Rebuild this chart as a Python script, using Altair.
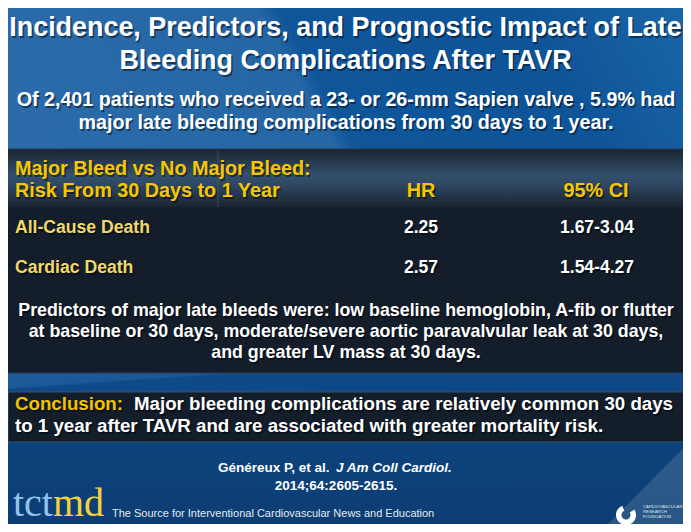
import altair as alt
import pandas as pd

# ---------------- content ----------------
title_lines = ["Incidence, Predictors, and Prognostic Impact of Late",
               "Bleeding Complications After TAVR"]
subtitle_lines = ["Of 2,401 patients who received a 23- or 26-mm Sapien valve , 5.9% had",
                  "major late bleeding complications from 30 days to 1 year."]
table_heading = ["Major Bleed vs No Major Bleed:", "Risk From 30 Days to 1 Year"]
column_heads = ["HR", "95% CI"]
outcomes = ["All-Cause Death", "Cardiac Death"]
hazard_ratios = ["2.25", "2.57"]
conf_intervals = ["1.67-3.04", "1.54-4.27"]
predictor_lines = ["Predictors of major late bleeds were: low baseline hemoglobin, A-fib or flutter",
                   "at baseline or 30 days, moderate/severe aortic paravalvular leak at 30 days,",
                   "and greater LV mass at 30 days."]
conclusion_label = ["Conclusion:"]
conclusion_lines = ["Major bleeding complications are relatively common 30 days",
                    "to 1 year after TAVR and are associated with greater mortality risk."]
citation_authors = ["Généreux P, et al. "]
citation_journal = ["J Am Coll Cardiol."]
citation_volume = ["2014;64:2605-2615."]
tagline = ["The Source for Interventional Cardiovascular News and Education"]
brand = ["tct", "md"]
crf_lines = ["CARDIOVASCULAR", "RESEARCH", "FOUNDATION"]

# ---------------- layout (slide pixel coordinates) ----------------
W, H = 675, 516
XS = alt.Scale(domain=[8, 683], range=[0, W], nice=False, zero=False)
YS = alt.Scale(domain=[8, 524], range=[0, H], nice=False, zero=False)
FONT = "Liberation Sans"


def enc():
    return dict(x=alt.X("x:Q", scale=XS, axis=None),
                y=alt.Y("y:Q", scale=YS, axis=None))


def text_layer(texts, xpos, ypos, size, color, weight="bold", align="left",
               font=FONT, style="normal", shadow=False):
    df = pd.DataFrame({"t": texts, "x": xpos, "y": ypos})
    base = alt.Chart(df)
    out = []
    common = dict(font=font, fontSize=size, fontWeight=weight, fontStyle=style,
                  align=align, baseline="alphabetic")
    if shadow:
        out.append(base.mark_text(color="#000000", opacity=0.45, dx=1.5, dy=1.5, **common)
                   .encode(text="t:N", **enc()))
    out.append(base.mark_text(color=color, **common).encode(text="t:N", **enc()))
    return out


def rect_layer(x0, x1, y0, y1, fill, stroke=None, opacity=1.0):
    df = pd.DataFrame({"x": [x0], "x2": [x1], "y": [y0], "y2": [y1]})
    props = dict(fill=fill, opacity=opacity)
    if stroke:
        props.update(stroke=stroke, strokeWidth=1)
    return alt.Chart(df).mark_rect(**props).encode(
        x2="x2:Q", y2="y2:Q", **enc())


def grad(stops, x1=0.0, y1=0.0, x2=0.0, y2=1.0):
    return alt.LinearGradient(gradient="linear", x1=x1, x2=x2, y1=y1, y2=y2,
                              stops=[alt.GradientStop(offset=o, color=c) for o, c in stops])


layers = []
# background: base vertical shading
layers.append(rect_layer(0, 691, 0, 532, grad([(0, "#0f569c"), (0.3, "#0f5394"), (0.6, "#0e4a88"), (1, "#0c3d73")])))
# top band with the lighter diagonal panel on the left
layers.append(rect_layer(0, 691, 0, 149, grad([(0, "#2b6ba9"), (0.42, "#2566a5"), (0.45, "#0e5599"),
                                                (0.8, "#0d5498"), (1, "#1b63a7")],
                                               x1=0, y1=0.5, x2=1, y2=0.378)))
# strip between the two boxes
layers.append(rect_layer(0, 691, 373, 392, grad([(0, "#1e5c9a"), (0.28, "#1b5897"), (0.31, "#0f4a88"),
                                                  (1, "#0e4785")], x1=0, y1=0, x2=1, y2=0.4)))
# lighter corner bottom-right
layers.append(rect_layer(560, 691, 430, 532, grad([(0, "rgba(255,255,255,0)"), (0.745, "rgba(255,255,255,0)"),
                                                    (0.755, "rgba(255,255,255,0.13)"), (1, "rgba(255,255,255,0.13)")],
                                                   x1=0, y1=0, x2=0.902, y2=0.695)))

# table box
layers.append(rect_layer(7, 684, 149, 373, "#141e2b", stroke="#2c3d52"))
layers.append(rect_layer(8, 685, 150, 207, grad([(0, "#1c2633"), (0.45, "#33506d"), (0.6, "#2f4864"), (1, "#1a2431")])))
layers.append(alt.Chart(pd.DataFrame({"x": [218], "y": [150], "y2": [207]}))
              .mark_rule(color="#3d5873", strokeWidth=1, opacity=0.8)
              .encode(y2="y2:Q", **enc()))
# conclusion box
layers.append(rect_layer(8, 685, 392, 442, "#141e2b", stroke="#34506e"))

# title & subtitle
layers += text_layer(title_lines, [345.5, 345.5], [36, 69], 26.9, "#ffffff", align="center", shadow=True)
layers += text_layer(subtitle_lines, [346, 346], [106, 129], 19.7, "#ffffff", align="center", shadow=True)

# table
layers += text_layer(table_heading, [15, 15], [175, 197], 19.8, "#f6c700", shadow=True)
layers += text_layer(column_heads, [421, 596], [197, 197], 19.8, "#f6c700", align="center", shadow=True)
layers += text_layer(outcomes, [15, 15], [233, 273], 17.6, "#f0d86a", shadow=True)
layers += text_layer(hazard_ratios, [421, 421], [233, 273], 17.5, "#ffffff", align="center", shadow=True)
layers += text_layer(conf_intervals, [597, 597], [233, 273], 17.5, "#ffffff", align="center", shadow=True)
layers += text_layer(predictor_lines, [346, 346, 346], [316, 337, 358], 17.8, "#ffffff", align="center", shadow=True)

# conclusion
layers += text_layer(conclusion_label, [15], [410], 18.7, "#f2c300", shadow=True)
layers += text_layer(conclusion_lines, [134, 15], [410, 432], 18.7, "#ffffff", shadow=True)

# citation
layers += text_layer(citation_authors, [218], [472], 13.5, "#ffffff")
layers += text_layer(citation_journal, [336], [472], 13.5, "#ffffff", style="italic")
layers += text_layer(citation_volume, [336], [490], 13.5, "#ffffff", align="center")

# footer
layers += text_layer(tagline, [112], [517], 11, "#e3e9f0", weight="normal")
layers += text_layer(brand[:1], [13], [516], 40, "#8ec4ee", weight="normal", font="Liberation Serif")
layers += text_layer(brand[1:], [53], [516], 40, "#f3d03e", weight="normal", font="Liberation Serif")
layers.append(alt.Chart(pd.DataFrame({"x": [626], "y": [515]}))
              .mark_arc(theta=1.0, theta2=5.9, innerRadius=4.5, outerRadius=10, color="#ffffff")
              .encode(**enc()))
layers += text_layer(crf_lines, [643, 643, 643], [508, 513, 518], 4.3, "#dfe6ee", weight="normal")

chart = alt.layer(*layers).properties(
    width=W, height=H, padding=0, autosize=alt.AutoSizeParams(type="none")
).configure_view(stroke=None).configure(background="#0f4f8f")

chart.save("out.html", embed_options={"renderer": "svg", "actions": False})
